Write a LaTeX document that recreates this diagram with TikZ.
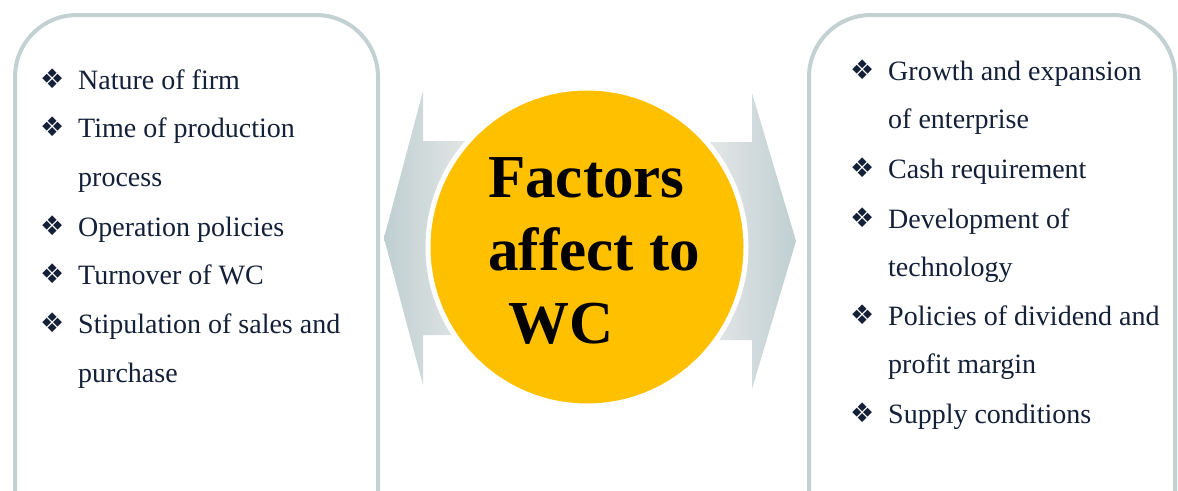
\documentclass[tikz,border=0pt]{standalone}
\usepackage{fontspec}
\setmainfont{Liberation Serif}
\newfontfamily\bulfont{DejaVu Sans}
\definecolor{navy}{HTML}{142038}
\definecolor{panelc}{HTML}{C3D1D3}
\definecolor{gold}{HTML}{FFC000}
\definecolor{arrowdark}{HTML}{BFCFD1}
\definecolor{arrowlight}{HTML}{E8E9E9}
\begin{document}
\begin{tikzpicture}[x=1pt,y=-1pt,
  item/.style={anchor=base west, inner sep=0pt, text=navy, font=\fontsize{28}{34}\selectfont},
  bul/.style={anchor=base west, inner sep=0pt, text=navy, font=\bulfont\fontsize{27}{30}\selectfont},
  panel/.style={draw=panelc, line width=4pt, rounded corners=62pt, fill=white},
  title/.style={anchor=base west, inner sep=0pt, text=black, font=\bfseries\fontsize{61}{70}\selectfont}]
\clip (0,0) rectangle (1178,490);
\fill[white] (0,0) rectangle (1178,490);
% panels
\draw[panel] (15,15) rectangle (378,560);
\draw[panel] (809,15) rectangle (1175,560);
% arrows
\shade[left color=arrowdark, right color=arrowlight]
  (384,238) -- (423,91) -- (423,141) -- (480,141) -- (480,335) -- (423,335) -- (423,385) -- cycle;
\shade[left color=arrowlight, right color=arrowdark]
  (700,142) -- (752,142) -- (752,93) -- (796,241) -- (752,389) -- (752,340) -- (700,340) -- cycle;
% circle
\node[circle, fill=gold, draw=white, line width=5pt, minimum size=318pt, inner sep=0pt] (c) at (587,247) {};
\node[title] (t1) at (488,197) {Factors};
\node[title] (t2) at (488,270) {affect to};
\node[title] (t3) at (508,343) {WC};
% left items
\node[bul] (lb1) at (40,88) {❖};
\node[item] (l1) at (78,89) {Nature of firm};
\node[bul] (lb2) at (40,136) {❖};
\node[item] (l2) at (78,137) {Time of production};
\node[item] (l2b) at (78,186) {process};
\node[bul] (lb3) at (40,235) {❖};
\node[item] (l3) at (78,236) {Operation policies};
\node[bul] (lb4) at (40,283) {❖};
\node[item] (l4) at (78,284) {Turnover of WC};
\node[bul] (lb5) at (40,332) {❖};
\node[item] (l5) at (78,333) {Stipulation of sales and};
\node[item] (l5b) at (78,382) {purchase};
% right items
\node[bul] (rb1) at (850,79) {❖};
\node[item] (r1) at (888,80) {Growth and expansion};
\node[item] (r1b) at (888,128) {of enterprise};
\node[bul] (rb2) at (850,177) {❖};
\node[item] (r2) at (888,178) {Cash requirement};
\node[bul] (rb3) at (850,227) {❖};
\node[item] (r3) at (888,228) {Development of};
\node[item] (r3b) at (888,276) {technology};
\node[bul] (rb4) at (850,324) {❖};
\node[item] (r4) at (888,325) {Policies of dividend and};
\node[item] (r4b) at (888,373) {profit margin};
\node[bul] (rb5) at (850,422) {❖};
\node[item] (r5) at (888,423) {Supply conditions};
\end{tikzpicture}
\end{document}
